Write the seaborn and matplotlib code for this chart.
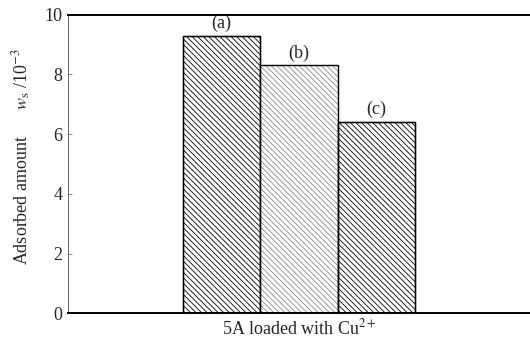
import matplotlib
matplotlib.use("Agg")
import matplotlib.pyplot as plt
import seaborn as sns
import pandas as pd

categories = ["(a)", "(b)", "(c)"]
values = [9.3, 8.3, 6.42]
yticks = [0, 2, 4, 6, 8, 10]
xlabel = "5A loaded with Cu$^{2+}$"
ylabel = "Adsorbed amount      $w_{\\rm s}$ /10$^{-3}$"

sns.set_style("ticks")
plt.rcParams["font.family"] = ["Liberation Serif", "DejaVu Serif"]
plt.rcParams["mathtext.fontset"] = "stix"
plt.rcParams["hatch.linewidth"] = 0.6

df = pd.DataFrame({"cat": categories, "val": values})

fig = plt.figure(figsize=(5.30, 3.41), dpi=100)
ax = fig.add_axes([68 / 530, 1 - 313.3 / 341, 462 / 530, (313.3 - 14.7) / 341])

sns.barplot(data=df, x="cat", y="val", width=1.0, color="white",
            edgecolor="black", linewidth=1.0, ax=ax)

hatch_colors = ["black", "#888888", "black"]
for p, hc in zip(ax.patches, hatch_colors):
    p.set_facecolor("white")
    p.set_hatch("\\\\\\\\\\\\")
    p.set_edgecolor(hc)
# redraw outlines in black
for p in ax.patches[:]:
    x, w, h = p.get_x(), p.get_width(), p.get_height()
    ax.add_patch(plt.Rectangle((x, 0), w, h, fill=False, edgecolor="black", linewidth=0.9, zorder=3))

for i, (c, v) in enumerate(zip(categories, values)):
    ax.annotate(c, (i, v), xytext=(0, 2.5), textcoords="offset points",
                ha="center", va="bottom", fontsize=13)

ax.set_xlim(-1.98, 3.98)
ax.set_ylim(0, 10)
ax.set_yticks(yticks)
ax.set_xticks([])
ax.tick_params(axis="y", direction="in", length=3, width=0.6, color="#777777", labelsize=13, pad=4)
ax.set_xlabel(xlabel, fontsize=13, labelpad=4)
ax.set_ylabel(ylabel, fontsize=13)
ax.yaxis.set_label_coords(-0.075, 0.525)

ax.spines["right"].set_visible(False)
ax.spines["left"].set_linewidth(0.7)
ax.spines["left"].set_color("#666666")
ax.spines["top"].set_linewidth(1.4)
ax.spines["bottom"].set_linewidth(1.4)
ax.spines["top"].set_color("black")
ax.spines["bottom"].set_color("black")

fig.savefig("out.png", dpi=100)
